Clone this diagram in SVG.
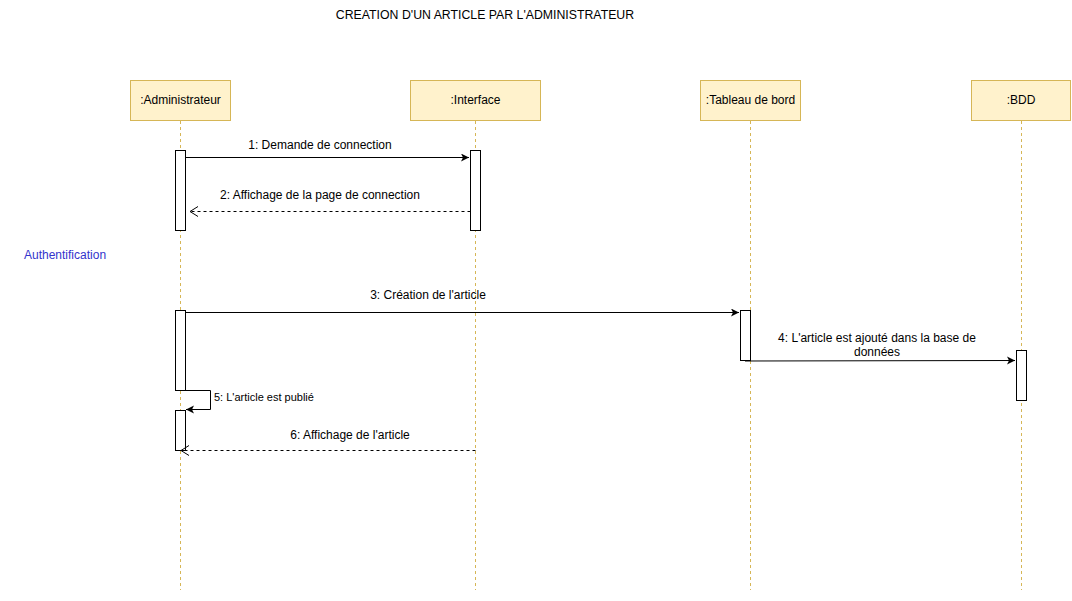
<svg xmlns="http://www.w3.org/2000/svg" width="1072" height="601" viewBox="0 0 1072 601">
<defs>
<style>
text{font-family:"Liberation Sans",Arial,sans-serif;font-size:12px;fill:#000}
.t{text-anchor:middle}
.box{fill:#fff2cc;stroke:#d6b656;stroke-width:1}
.life{stroke:#d6b656;stroke-width:1;stroke-dasharray:3 3;fill:none}
.act{fill:#fff;stroke:#000;stroke-width:1}
.msg{stroke:#000;stroke-width:1;fill:none}
.ret{stroke:#000;stroke-width:1;fill:none;stroke-dasharray:3 3}
</style>
<marker id="fa" markerWidth="10" markerHeight="10" refX="8" refY="4" orient="auto" markerUnits="userSpaceOnUse"><path d="M0,0 L8,4 L0,8 L2,4 Z" fill="#000"/></marker>
<marker id="oa" markerWidth="12" markerHeight="12" refX="9" refY="5" orient="auto" markerUnits="userSpaceOnUse"><path d="M1,0 L9,5 L1,10" fill="none" stroke="#000"/></marker>
</defs>
<rect width="1072" height="601" fill="#fff"/>
<text class="t" x="485" y="19" style="font-size:12.3px">CREATION D'UN ARTICLE PAR L'ADMINISTRATEUR</text>
<text x="24" y="259" style="fill:#3333cc">Authentification</text>

<g id="admin">
<rect class="box" x="130.5" y="80.5" width="100" height="40"/>
<text class="t" x="180.5" y="104">:Administrateur</text>
<line class="life" x1="180.5" y1="121" x2="180.5" y2="590"/>
<rect class="act" x="175.5" y="150.5" width="10" height="80"/>
<rect class="act" x="175.5" y="310.5" width="10" height="80"/>
<rect class="act" x="175.5" y="410.5" width="10" height="40"/>
</g>
<g id="interface">
<rect class="box" x="410.5" y="80.5" width="130" height="40"/>
<text class="t" x="475.5" y="104">:Interface</text>
<line class="life" x1="475.5" y1="121" x2="475.5" y2="590"/>
<rect class="act" x="470.5" y="150.5" width="10" height="80"/>
</g>
<g id="tableau">
<rect class="box" x="700.5" y="80.5" width="100" height="40"/>
<text class="t" x="750.5" y="104">:Tableau de bord</text>
<line class="life" x1="750.5" y1="121" x2="750.5" y2="590"/>
<rect class="act" x="740.5" y="310.5" width="10" height="50"/>
</g>
<g id="bdd">
<rect class="box" x="971.5" y="80.5" width="99" height="40"/>
<text class="t" x="1021" y="104">:BDD</text>
<line class="life" x1="1021.5" y1="121" x2="1021.5" y2="590"/>
<rect class="act" x="1016.5" y="350.5" width="10" height="50"/>
</g>

<g id="connectors">
<line class="msg" x1="185.5" y1="157.5" x2="469" y2="157.5" marker-end="url(#fa)"/>
<text class="t" x="320" y="149">1: Demande de connection</text>
<line class="ret" x1="470.5" y1="211.5" x2="190" y2="211.5" marker-end="url(#oa)"/>
<text class="t" x="320" y="199">2: Affichage de la page de connection</text>
<line class="msg" x1="185.5" y1="312.5" x2="739" y2="312.5" marker-end="url(#fa)"/>
<text class="t" x="428" y="299">3: Création de l'article</text>
<line class="msg" x1="745" y1="361" x2="1015" y2="360.5" marker-end="url(#fa)"/>
<text class="t" x="877" y="342">4: L'article est ajouté dans la base de</text>
<text class="t" x="877" y="356">données</text>
<path class="msg" d="M185.5,390.5 H210.5 V409.5 H186" marker-end="url(#fa)"/>
<text x="214" y="401" style="font-size:11px">5: L'article est publié</text>
<line class="ret" x1="475.5" y1="450.5" x2="181" y2="450.5" marker-end="url(#oa)"/>
<text class="t" x="350" y="439">6: Affichage de l'article</text>
</g>
</svg>
